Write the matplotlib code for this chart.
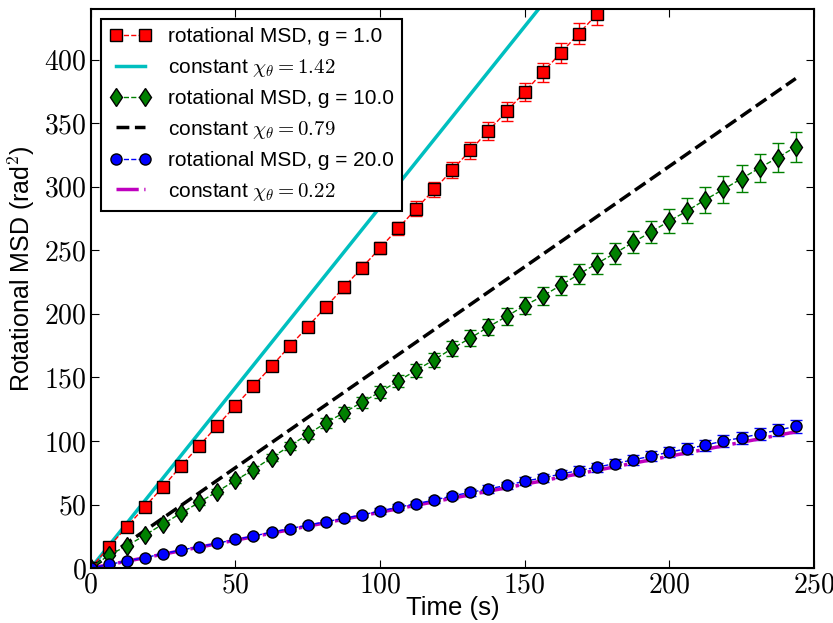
import matplotlib
matplotlib.use("Agg")
import matplotlib.pyplot as plt
from matplotlib.ticker import FuncFormatter, MultipleLocator
import numpy as np

plt.rcParams['font.family'] = ['Liberation Sans', 'DejaVu Sans']
plt.rcParams['mathtext.fontset'] = 'cm'

# time points (s)
dt = 6.25
t = np.arange(40) * dt

msd_g1 = [0, 16.8, 32.6, 48.4, 64.1, 80.5, 96.3, 112.1, 127.8, 143.3,
          158.8, 174.6, 189.9, 205.4, 220.9, 236.4, 251.7, 267.2, 282.7, 297.9,
          313.2, 328.8, 344.0, 359.2, 374.5, 390.0, 405.3, 420.5, 435.7, 451.0,
          466.0, 482.0, 497.0, 513.0, 528.0, 544.0, 559.0, 575.0, 590.0, 606.0]
err_g1 = [0, 0.4, 0.7, 1.0, 1.3, 1.6, 1.9, 2.2, 2.5, 2.8,
          3.1, 3.4, 3.7, 4.0, 4.3, 4.6, 4.9, 5.3, 5.7, 6.0,
          6.3, 6.6, 6.9, 7.2, 7.4, 7.6, 7.8, 8.0, 8.2, 8.5,
          8.8, 9.1, 9.4, 9.7, 10.0, 10.3, 10.6, 10.9, 11.2, 11.5]

msd_g10 = [0, 10.3, 17.5, 26.0, 34.8, 43.3, 51.8, 60.3, 69.0, 77.5,
           87.0, 96.0, 105.3, 114.2, 122.3, 130.5, 138.6, 147.2, 155.6, 164.0,
           172.8, 181.0, 189.8, 198.0, 206.5, 214.0, 222.5, 231.2, 239.6, 247.7,
           256.2, 264.5, 273.0, 281.1, 289.8, 298.0, 306.4, 314.8, 322.9, 331.4]
err_g10 = [0, 0.4, 0.6, 0.9, 1.2, 1.5, 1.8, 2.1, 2.4, 2.7,
           3.0, 3.3, 3.6, 3.9, 4.2, 4.5, 4.8, 5.0, 5.2, 5.4,
           5.7, 6.0, 6.3, 6.6, 6.9, 7.1, 7.4, 7.7, 8.0, 8.3,
           8.6, 8.9, 9.3, 9.7, 10.1, 10.5, 10.9, 11.3, 11.7, 12.0]

msd_g20 = [0, 2.9, 5.7, 8.3, 11.4, 14.2, 17.0, 19.6, 22.6, 25.2,
           28.4, 31.0, 33.9, 36.5, 39.2, 41.8, 45.0, 47.9, 50.7, 53.6,
           56.8, 59.7, 62.3, 65.2, 68.4, 71.0, 74.0, 76.8, 79.4, 82.3,
           85.2, 88.1, 91.3, 93.9, 96.8, 100.0, 102.6, 105.5, 108.6, 111.5]
err_g20 = [0, 0.1, 0.2, 0.4, 0.5, 0.6, 0.8, 0.9, 1.0, 1.1,
           1.3, 1.4, 1.5, 1.6, 1.8, 1.9, 2.0, 2.2, 2.3, 2.4,
           2.6, 2.7, 2.8, 2.9, 3.1, 3.2, 3.3, 3.5, 3.6, 3.7,
           3.8, 4.0, 4.1, 4.2, 4.4, 4.5, 4.6, 4.7, 4.9, 5.0]

chi = [1.42, 0.79, 0.22]
g_vals = [1.0, 10.0, 20.0]

fig = plt.figure(figsize=(8.33, 6.23), dpi=100)
ax = fig.add_axes([0.109, 0.088, 0.868, 0.898])

series = [(msd_g1, err_g1, 'r', 's'), (msd_g10, err_g10, 'g', 'd'), (msd_g20, err_g20, 'b', 'o')]
fit_styles = [('c', '-'), ('k', '--'), ('m', '-.')]

handles = []
labels = []
for (msd, err, col, mk), (fcol, fls), c, g in zip(series, fit_styles, chi, g_vals):
    eb = ax.errorbar(t, msd, yerr=err, color=col, ls='--', lw=1, marker=mk,
                     ms=9.5 if mk == 'd' else 8, mec='k', mew=1, capsize=4,
                     ecolor=col, elinewidth=1)
    ln, = ax.plot(t, 2 * c * t, color=fcol, ls=fls, lw=2.5)
    handles += [eb.lines[0], ln]
    labels += ['rotational MSD, g = %.1f' % g, r'constant $\chi_\theta = %.2f$' % c]

ax.set_xlim(0, 250)
ax.set_ylim(0, 440)
ax.xaxis.set_major_locator(MultipleLocator(50))
ax.yaxis.set_major_locator(MultipleLocator(50))
fmt = FuncFormatter(lambda v, p: '$%d$' % v)
ax.xaxis.set_major_formatter(fmt)
ax.yaxis.set_major_formatter(fmt)
ax.tick_params(labelsize=20, direction='in', length=6, top=True, right=True, pad=3)
for s in ax.spines.values():
    s.set_linewidth(1.5)

ax.set_xlabel('Time (s)', fontsize=18.5, labelpad=-2)
ax.set_ylabel(r'Rotational MSD (rad$^2$)', fontsize=18)
ax.yaxis.set_label_coords(-0.075, 0.535)

leg = ax.legend(handles, labels, loc='upper left', fontsize=15, numpoints=2,
                fancybox=False, framealpha=1, edgecolor='k', handlelength=2.0,
                borderpad=0.4, labelspacing=0.5, handletextpad=0.8)
leg.get_frame().set_linewidth(1.5)

fig.savefig('out.png', dpi=100)
